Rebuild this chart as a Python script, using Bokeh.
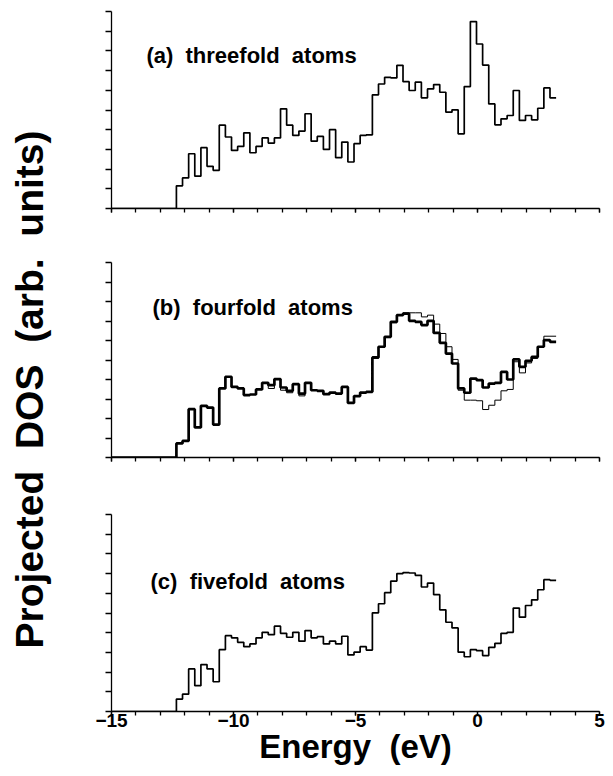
import numpy as np
from math import pi
from bokeh.plotting import figure
from bokeh.layouts import column, row
from bokeh.models import FixedTicker, Label
from bokeh.embed import file_html
from bokeh.resources import INLINE

# ---- data ----
e_start = -12.34          # eV, first bin edge
bin_width = 0.251         # eV
x_min, x_max = -15, 5

threefold = [1.15, 1.55, 2.78, 1.64, 3.09, 2.14, 1.94, 4.23, 3.63, 2.95,
             3.15, 3.84, 2.83, 3.15, 3.58, 3.32, 3.58, 5.06, 4.23, 3.71,
             3.93, 4.81, 3.42, 3.66, 3.00, 4.00, 2.58, 3.37, 2.36, 3.29,
             3.71, 3.74, 5.77, 6.32, 6.66, 6.63, 7.27, 6.44, 5.99, 6.41,
             5.62, 6.07, 6.29, 5.90, 4.89, 5.01, 3.79, 6.19, 9.49, 8.35,
             7.28, 5.31, 4.25, 4.55, 4.72, 5.99, 4.47, 4.72, 4.50, 5.09,
             6.12, 5.62]

fourfold_thick = [0.72, 0.85, 2.48, 1.54, 2.65, 2.56, 1.69, 3.54, 4.14, 3.62,
                  3.54, 3.20, 3.23, 3.49, 3.83, 3.71, 4.02, 3.59, 3.42, 3.76,
                  3.28, 3.83, 3.45, 3.42, 3.25, 3.33, 3.28, 3.62, 2.80, 3.15,
                  3.33, 3.37, 5.13, 5.68, 6.19, 6.96, 7.30, 7.38, 7.01, 6.96,
                  6.79, 7.01, 6.39, 5.88, 5.33, 4.82, 3.54, 3.32, 4.05, 3.97,
                  3.59, 3.79, 3.83, 4.39, 4.00, 5.03, 4.65, 4.96, 5.16, 5.68,
                  6.02, 5.93]

fourfold_thin = [0.72, 0.85, 2.48, 1.54, 2.65, 2.56, 1.69, 3.54, 4.14, 3.62,
                 3.54, 3.20, 3.23, 3.49, 3.83, 3.54, 4.02, 3.45, 3.32, 3.76,
                 3.16, 3.83, 3.45, 3.42, 3.25, 3.33, 3.28, 3.62, 2.80, 3.15,
                 3.33, 3.37, 5.08, 5.64, 6.15, 6.91, 7.33, 7.42, 7.42, 7.42,
                 7.21, 7.30, 6.84, 6.36, 5.68, 5.03, 3.45, 2.94, 2.94, 2.91,
                 2.46, 2.68, 2.94, 3.42, 3.49, 4.91, 4.34, 4.85, 5.08, 5.68,
                 6.22, 6.22]

fivefold = [0.63, 0.88, 2.16, 1.31, 2.38, 2.16, 1.51, 3.14, 3.85, 3.74,
            3.51, 3.29, 3.43, 3.74, 4.02, 3.90, 4.33, 3.97, 3.77, 4.02,
            3.57, 4.11, 3.74, 3.80, 3.43, 3.57, 3.43, 3.82, 2.87, 3.01,
            3.29, 3.12, 5.01, 5.47, 6.03, 6.62, 7.00, 7.05, 7.03, 6.91,
            6.32, 6.52, 5.93, 5.16, 4.53, 4.24, 3.01, 2.78, 3.14, 3.09,
            2.84, 3.26, 3.46, 3.97, 4.02, 5.25, 4.79, 5.38, 5.67, 6.18,
            6.69, 6.66]

NB = "\u00a0"
panel_titles = ["(a) " + NB + "threefold " + NB + "atoms",
                "(b) " + NB + "fourfold " + NB + "atoms",
                "(c) " + NB + "fivefold " + NB + "atoms"]
y_title = ("Projected " + NB + "DOS " + NB + "(arb. " + NB + "units)")
x_title = "Energy " + NB + "(eV)"
x_ticks_major = [-15, -10, -5, 0, 5]
x_ticks_minor = list(range(-15, 6))
y_ticks = list(range(0, 11))

FONT = "Liberation Sans"


def step_xy(vals):
    n = len(vals)
    edges = e_start + bin_width * np.arange(n + 1)
    xs = np.concatenate([[x_min], edges])
    ys = np.concatenate([[0.0], vals, [vals[-1]]])
    return xs, ys


def make_panel(height, top, bottom, show_labels):
    p = figure(width=553, height=height, x_range=(x_min, x_max), y_range=(0, 10),
               output_backend="svg", toolbar_location=None,
               min_border_left=51, min_border_right=14,
               min_border_top=top, min_border_bottom=bottom)
    p.outline_line_color = None
    p.grid.visible = False
    p.background_fill_color = "white"
    p.border_fill_color = "white"
    xa = p.xaxis[0]
    xa.ticker = FixedTicker(ticks=x_ticks_major, minor_ticks=x_ticks_minor)
    xa.major_tick_out = 4
    xa.major_tick_in = 0
    xa.minor_tick_out = 4
    xa.minor_tick_in = 0
    xa.axis_line_width = 1.3
    xa.major_tick_line_width = 1.3
    xa.minor_tick_line_width = 1.3
    xa.axis_line_color = "black"
    xa.major_tick_line_color = "black"
    xa.minor_tick_line_color = "black"
    if show_labels:
        xa.major_label_text_font = FONT
        xa.major_label_text_font_style = "bold"
        xa.major_label_text_font_size = "19px"
        xa.major_label_text_color = "black"
        xa.major_label_standoff = -2
        xa.axis_label = x_title
        xa.axis_label_text_font = FONT
        xa.axis_label_text_font_style = "bold"
        xa.axis_label_text_font_size = "33px"
        xa.axis_label_text_color = "black"
        xa.axis_label_standoff = -2
    else:
        xa.major_label_text_color = None
    ya = p.yaxis[0]
    ya.ticker = FixedTicker(ticks=y_ticks, minor_ticks=[])
    ya.major_tick_out = 6
    ya.major_tick_in = 0
    ya.minor_tick_out = 0
    ya.minor_tick_in = 0
    ya.major_label_text_color = None
    ya.axis_line_width = 1.3
    ya.major_tick_line_width = 1.3
    ya.axis_line_color = "black"
    ya.major_tick_line_color = "black"
    return p


def title_label(x, y, text):
    return Label(x=x, y=y, text=text, text_font=FONT, text_font_style="bold",
                 text_font_size="22px", text_align="left", text_baseline="middle",
                 text_color="black")


pa = make_panel(235, 11, 27, False)
xs, ys = step_xy(threefold)
pa.step(xs, ys, mode="after", line_color="black", line_width=1.7)
pa.add_layout(title_label(-13.57, 7.77, panel_titles[0]))

pb = make_panel(252, 27, 30, False)
xs, ys = step_xy(fourfold_thin)
pb.step(xs, ys, mode="after", line_color="black", line_width=1.0)
xs, ys = step_xy(fourfold_thick)
pb.step(xs, ys, mode="after", line_color="black", line_width=2.7)
pb.add_layout(title_label(-13.32, 7.69, panel_titles[1]))

pc = make_panel(289, 27, 65, True)
xs, ys = step_xy(fivefold)
pc.step(xs, ys, mode="after", line_color="black", line_width=1.7)
pc.add_layout(title_label(-13.4, 6.6, panel_titles[2]))

# left strip carrying the shared y-axis title
pl = figure(width=60, height=776, x_range=(0, 60), y_range=(0, 776),
            x_axis_type=None, y_axis_type=None, output_backend="svg",
            toolbar_location=None, min_border=0)
pl.outline_line_color = None
pl.grid.visible = False
pl.add_layout(Label(x=29, y=387, text=y_title, angle=pi / 2,
                    text_font=FONT, text_font_style="bold", text_font_size="39px",
                    text_align="center", text_baseline="middle", text_color="black"))

layout = row(pl, column(pa, pb, pc))
open("out.html", "w").write(file_html(layout, INLINE))
